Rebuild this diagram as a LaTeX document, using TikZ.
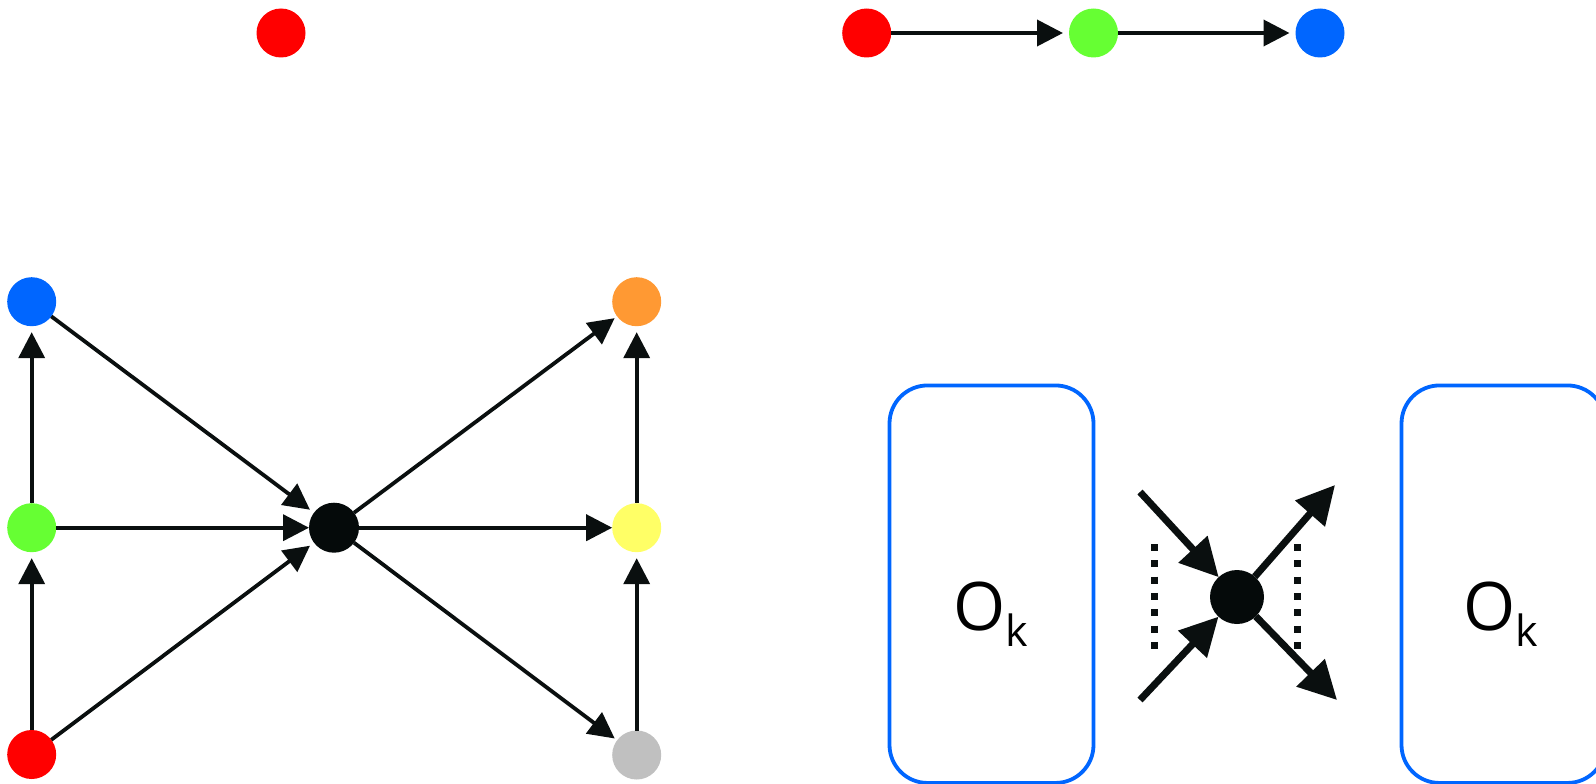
\documentclass[tikz,border=0pt]{standalone}
\usepackage{fontspec}
\setmainfont{Open Sans}
\usetikzlibrary{arrows.meta}
\definecolor{ink}{HTML}{0A0F0F}
\definecolor{cred}{HTML}{FF0000}
\definecolor{cgreen}{HTML}{66FF33}
\definecolor{cblue}{HTML}{0066FF}
\definecolor{corange}{HTML}{FF9933}
\definecolor{cyellow}{HTML}{FFFF66}
\definecolor{cgray}{HTML}{C0C0C0}
\definecolor{cblack}{HTML}{050A0A}
\begin{document}
\begin{tikzpicture}[x=1pt,y=-1pt,
  dot/.style={circle, minimum size=49pt, inner sep=0pt, outer sep=0pt, fill=#1, draw=none},
  edge/.style={draw=ink, line width=3.8pt, -{Triangle[length=26pt,width=26pt]}},
  thick edge/.style={draw=ink, line width=7pt, -{Triangle[length=38pt,width=38pt]}},
  dotline/.style={draw=ink, line width=7pt, dash pattern=on 7pt off 9.33pt},
  okbox/.style={draw=cblue, line width=3.8pt, rounded corners=38pt, minimum width=204pt, minimum height=397.5pt, inner sep=0pt},
  oklabel/.style={anchor=base west, inner sep=0pt, text=black}
]
\useasboundingbox (0,0) rectangle (1596,784);
\fill[white] (0,0) rectangle (1596,784);

% top
\node[dot=cred] (lone) at (281,33) {};
\node[dot=cred] (ta) at (866.7,33) {};
\node[dot=cgreen] (tb) at (1093.5,33) {};
\node[dot=cblue] (tc) at (1320,33) {};
\draw[edge, shorten >=6pt] (ta) -- (tb);
\draw[edge, shorten >=6pt] (tb) -- (tc);

% left graph
\node[dot=cblue] (lb) at (31.7,301.7) {};
\node[dot=cgreen] (lg) at (31.7,527.7) {};
\node[dot=cred] (lr) at (31.7,754.5) {};
\node[dot=cblack, minimum size=50pt] (hub) at (334,527.7) {};
\node[dot=corange] (ro) at (636.7,301.7) {};
\node[dot=cyellow] (ry) at (636.7,527.7) {};
\node[dot=cgray] (rg) at (636.7,755) {};
\draw[edge, shorten >=6pt] (lg) -- (lb);
\draw[edge, shorten >=6pt] (lr) -- (lg);
\draw[edge, shorten >=5pt] (lb) -- (hub);
\draw[edge] (lg) -- (hub);
\draw[edge, shorten >=5pt] (lr) -- (hub);
\draw[edge, shorten >=3pt] (hub) -- (ro);
\draw[edge] (hub) -- (ry);
\draw[edge, shorten >=3pt] (hub) -- (rg);
\draw[edge, shorten >=6pt] (ry) -- (ro);
\draw[edge, shorten >=6pt] (rg) -- (ry);

% boxes
\node[okbox] (box1) at (991.5,584.2) {};
\node[okbox] (box2) at (1503.5,584.2) {};
\node[oklabel] (lab1) at (953.5,630) {\fontsize{67}{70}\selectfont O\raisebox{-16pt}{\fontsize{43}{45}\selectfont k}};
\node[oklabel] (lab2) at (1463.5,630) {\fontsize{67}{70}\selectfont O\raisebox{-16pt}{\fontsize{43}{45}\selectfont k}};

% cross
\node[circle, minimum size=54pt, inner sep=0pt, outer sep=0pt, fill=cblack] (xhub) at (1237,597) {};
\coordinate (cin1) at (1140,492);
\coordinate (cin2) at (1140,700);
\coordinate (cout1) at (1335,485);
\coordinate (cout2) at (1337,700);
\draw[thick edge] (cin1) -- (xhub);
\draw[thick edge] (cin2) -- (xhub);
\draw[thick edge] (xhub) -- (cout1);
\draw[thick edge] (xhub) -- (cout2);
\coordinate (d1a) at (1154.3,544);
\coordinate (d1b) at (1154.3,649);
\coordinate (d2a) at (1297.7,544);
\coordinate (d2b) at (1297.7,649);
\draw[dotline] (d1a) -- (d1b);
\draw[dotline] (d2a) -- (d2b);
\end{tikzpicture}
\end{document}
